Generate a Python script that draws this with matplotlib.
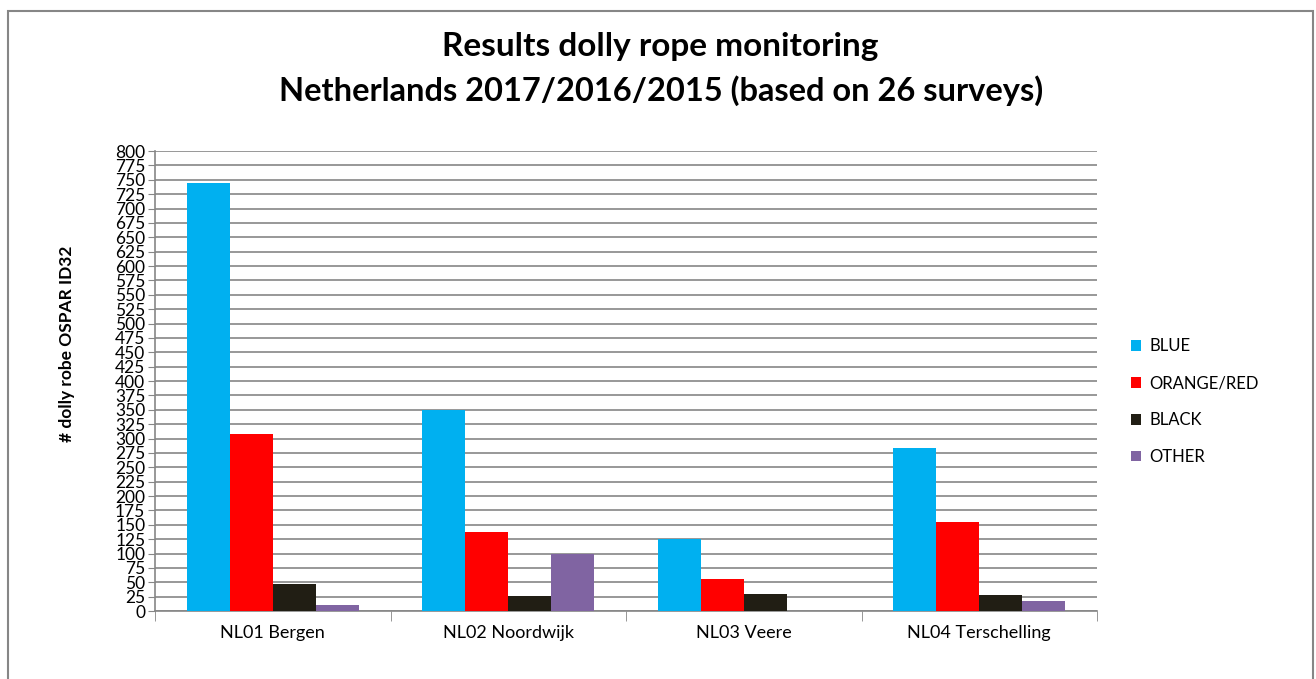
import numpy as np
import matplotlib
matplotlib.use('Agg')
import matplotlib.pyplot as plt
from matplotlib.patches import Rectangle

plt.rcParams['font.family'] = ['Lato', 'DejaVu Sans']

# data
sites = ['NL01 Bergen', 'NL02 Noordwijk', 'NL03 Veere', 'NL04 Terschelling']
blue = [744, 349, 125, 283]
orange_red = [308, 137, 55, 155]
black = [47, 26, 30, 28]
other = [10, 100, 0, 18]

series = ['BLUE', 'ORANGE/RED', 'BLACK', 'OTHER']
colors = ['#00B0F0', '#FF0000', '#211E14', '#8064A2']

fig = plt.figure(figsize=(13.16, 6.79), dpi=100)
ax = fig.add_axes([0.1178, 0.1001, 0.7158, 0.6775])

x = np.arange(len(sites))
w = 0.183
for i, (vals, name, c) in enumerate(zip([blue, orange_red, black, other], series, colors)):
    ax.bar(x + (i - 1.5) * w, vals, width=w, color=c, label=name, zorder=3)

ax.set_xlim(-0.5, len(sites) - 0.5)
ax.set_ylim(0, 800)
ax.set_yticks(np.arange(0, 801, 25))
ax.tick_params(axis='y', labelsize=12.5, length=5, color='#868686', pad=2)
ax.yaxis.grid(True, color='#868686', linewidth=1.2, zorder=0)

ax.set_xticks(x)
ax.set_xticklabels(sites, fontsize=13)
ax.set_xticks(np.arange(-0.5, len(sites), 1), minor=True)
ax.tick_params(axis='x', which='major', length=0, pad=10)
ax.tick_params(axis='x', which='minor', length=7, color='#868686')

for s in ['top', 'right']:
    ax.spines[s].set_visible(False)
for s in ['left', 'bottom']:
    ax.spines[s].set_color('#868686')
    ax.spines[s].set_linewidth(1.2)

ax.set_ylabel('# dolly robe OSPAR ID32', fontsize=12.5, fontweight='bold')
ax.yaxis.set_label_coords(-0.085, 0.58)

fig.text(0.502, 0.932, 'Results dolly rope monitoring', ha='center', va='center',
         fontsize=24, fontweight='bold')
fig.text(0.502, 0.866, 'Netherlands 2017/2016/2015 (based on 26 surveys)', ha='center',
         va='center', fontsize=23.5, fontweight='bold')

ax.legend(loc='center left', bbox_to_anchor=(1.02, 0.455), frameon=False, fontsize=12,
          handlelength=0.6, handleheight=0.6, labelspacing=1.25, handletextpad=0.5)

fig.add_artist(Rectangle((8 / 1316, -0.1), 1305 / 1316, 1.1 - 11 / 679,
                         transform=fig.transFigure, fill=False, edgecolor='#868686',
                         linewidth=1.5, clip_on=False))

fig.savefig('out.png', dpi=100)
